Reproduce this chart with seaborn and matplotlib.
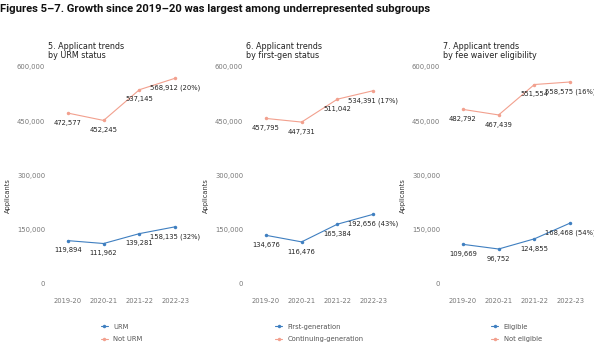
import matplotlib
matplotlib.use("Agg")
import matplotlib.pyplot as plt
import seaborn as sns
import pandas as pd

years = ["2019-20", "2020-21", "2021-22", "2022-23"]

panel_titles = ["5. Applicant trends\nby URM status",
                "6. Applicant trends\nby first-gen status",
                "7. Applicant trends\nby fee waiver eligibility"]

group_names = [["URM", "Not URM"],
               ["First-generation", "Continuing-generation"],
               ["Eligible", "Not eligible"]]

urm = [119894, 111962, 139281, 158135]
not_urm = [472577, 452245, 537145, 568912]
first_gen = [134676, 116476, 165384, 192656]
cont_gen = [457795, 447731, 511042, 534391]
eligible = [109669, 96752, 124855, 168468]
not_eligible = [482792, 467439, 551554, 558575]

growth = [["32%", "20%"], ["43%", "17%"], ["54%", "16%"]]

yticks = [0, 150000, 300000, 450000, 600000]

series = [[urm, not_urm], [first_gen, cont_gen], [eligible, not_eligible]]

sns.set_theme(style="white")
plt.rcParams['font.family'] = ['DejaVu Sans']

blue = "#3f7fc0"
salmon = "#f2a08e"
colors = [blue, salmon]

fig = plt.figure(figsize=(5.94, 3.43), dpi=100)
fig.text(0.0, 0.988, "Figures 5\u20137. Growth since 2019\u201320 was largest among underrepresented subgroups",
         family="Roboto", weight="bold", fontsize=8.1, va="top", ha="left", color="#111111")

lefts = [50, 248, 445]
for p in range(3):
    ax = fig.add_axes([lefts[p] / 594, (343 - 284) / 343, 143 / 594, 217 / 343])
    rows = []
    for g in range(2):
        for i, y in enumerate(years):
            rows.append({"year": y, "group": group_names[p][g], "value": series[p][g][i]})
    df = pd.DataFrame(rows)
    sns.lineplot(data=df, x="year", y="value", hue="group", hue_order=group_names[p],
                 palette=colors, marker="o", markersize=2.5, markeredgewidth=0,
                 linewidth=0.8, ax=ax, legend=True, sort=False)
    for g in range(2):
        vals = series[p][g]
        for i, v in enumerate(vals):
            lab = f"{v:,}"
            if i == 3:
                lab += f" ({growth[p][g]})"
            ax.annotate(lab, (i, v), xytext=(0, -7), textcoords="offset points",
                        ha="center", va="center", fontsize=4.85, color="#222222")
    ax.set_xlim(-0.5, 3.5)
    ax.set_ylim(0, 600000)
    ax.set_yticks(yticks)
    ax.set_yticklabels([f"{t:,}" for t in yticks])
    ax.tick_params(axis="y", length=0, pad=3.5, labelsize=4.9, labelcolor="#777777")
    ax.tick_params(axis="x", length=0, pad=10, labelsize=4.9, labelcolor="#777777")
    ax.set_xlabel("")
    ax.set_ylabel("")
    for s in ax.spines.values():
        s.set_visible(False)
    ax.grid(False)
    ax.set_title(panel_titles[p], loc="left", fontsize=5.8, color="#222222",
                 x=-0.015, y=1.04, pad=0, linespacing=1.0, ha="left")
    fig.text((lefts[p] - 42) / 594, (343 - 196) / 343, "Applicants", rotation=90,
             fontsize=4.8, color="#333333", ha="center", va="center")
    leg = ax.legend(loc="upper center", bbox_to_anchor=(0.5, -0.17), frameon=False,
                    fontsize=4.9, handlelength=1.0, handletextpad=0.8,
                    labelspacing=1.0, borderaxespad=0)
    for t in leg.get_texts():
        t.set_color("#555555")

fig.savefig("out.png", dpi=100)
